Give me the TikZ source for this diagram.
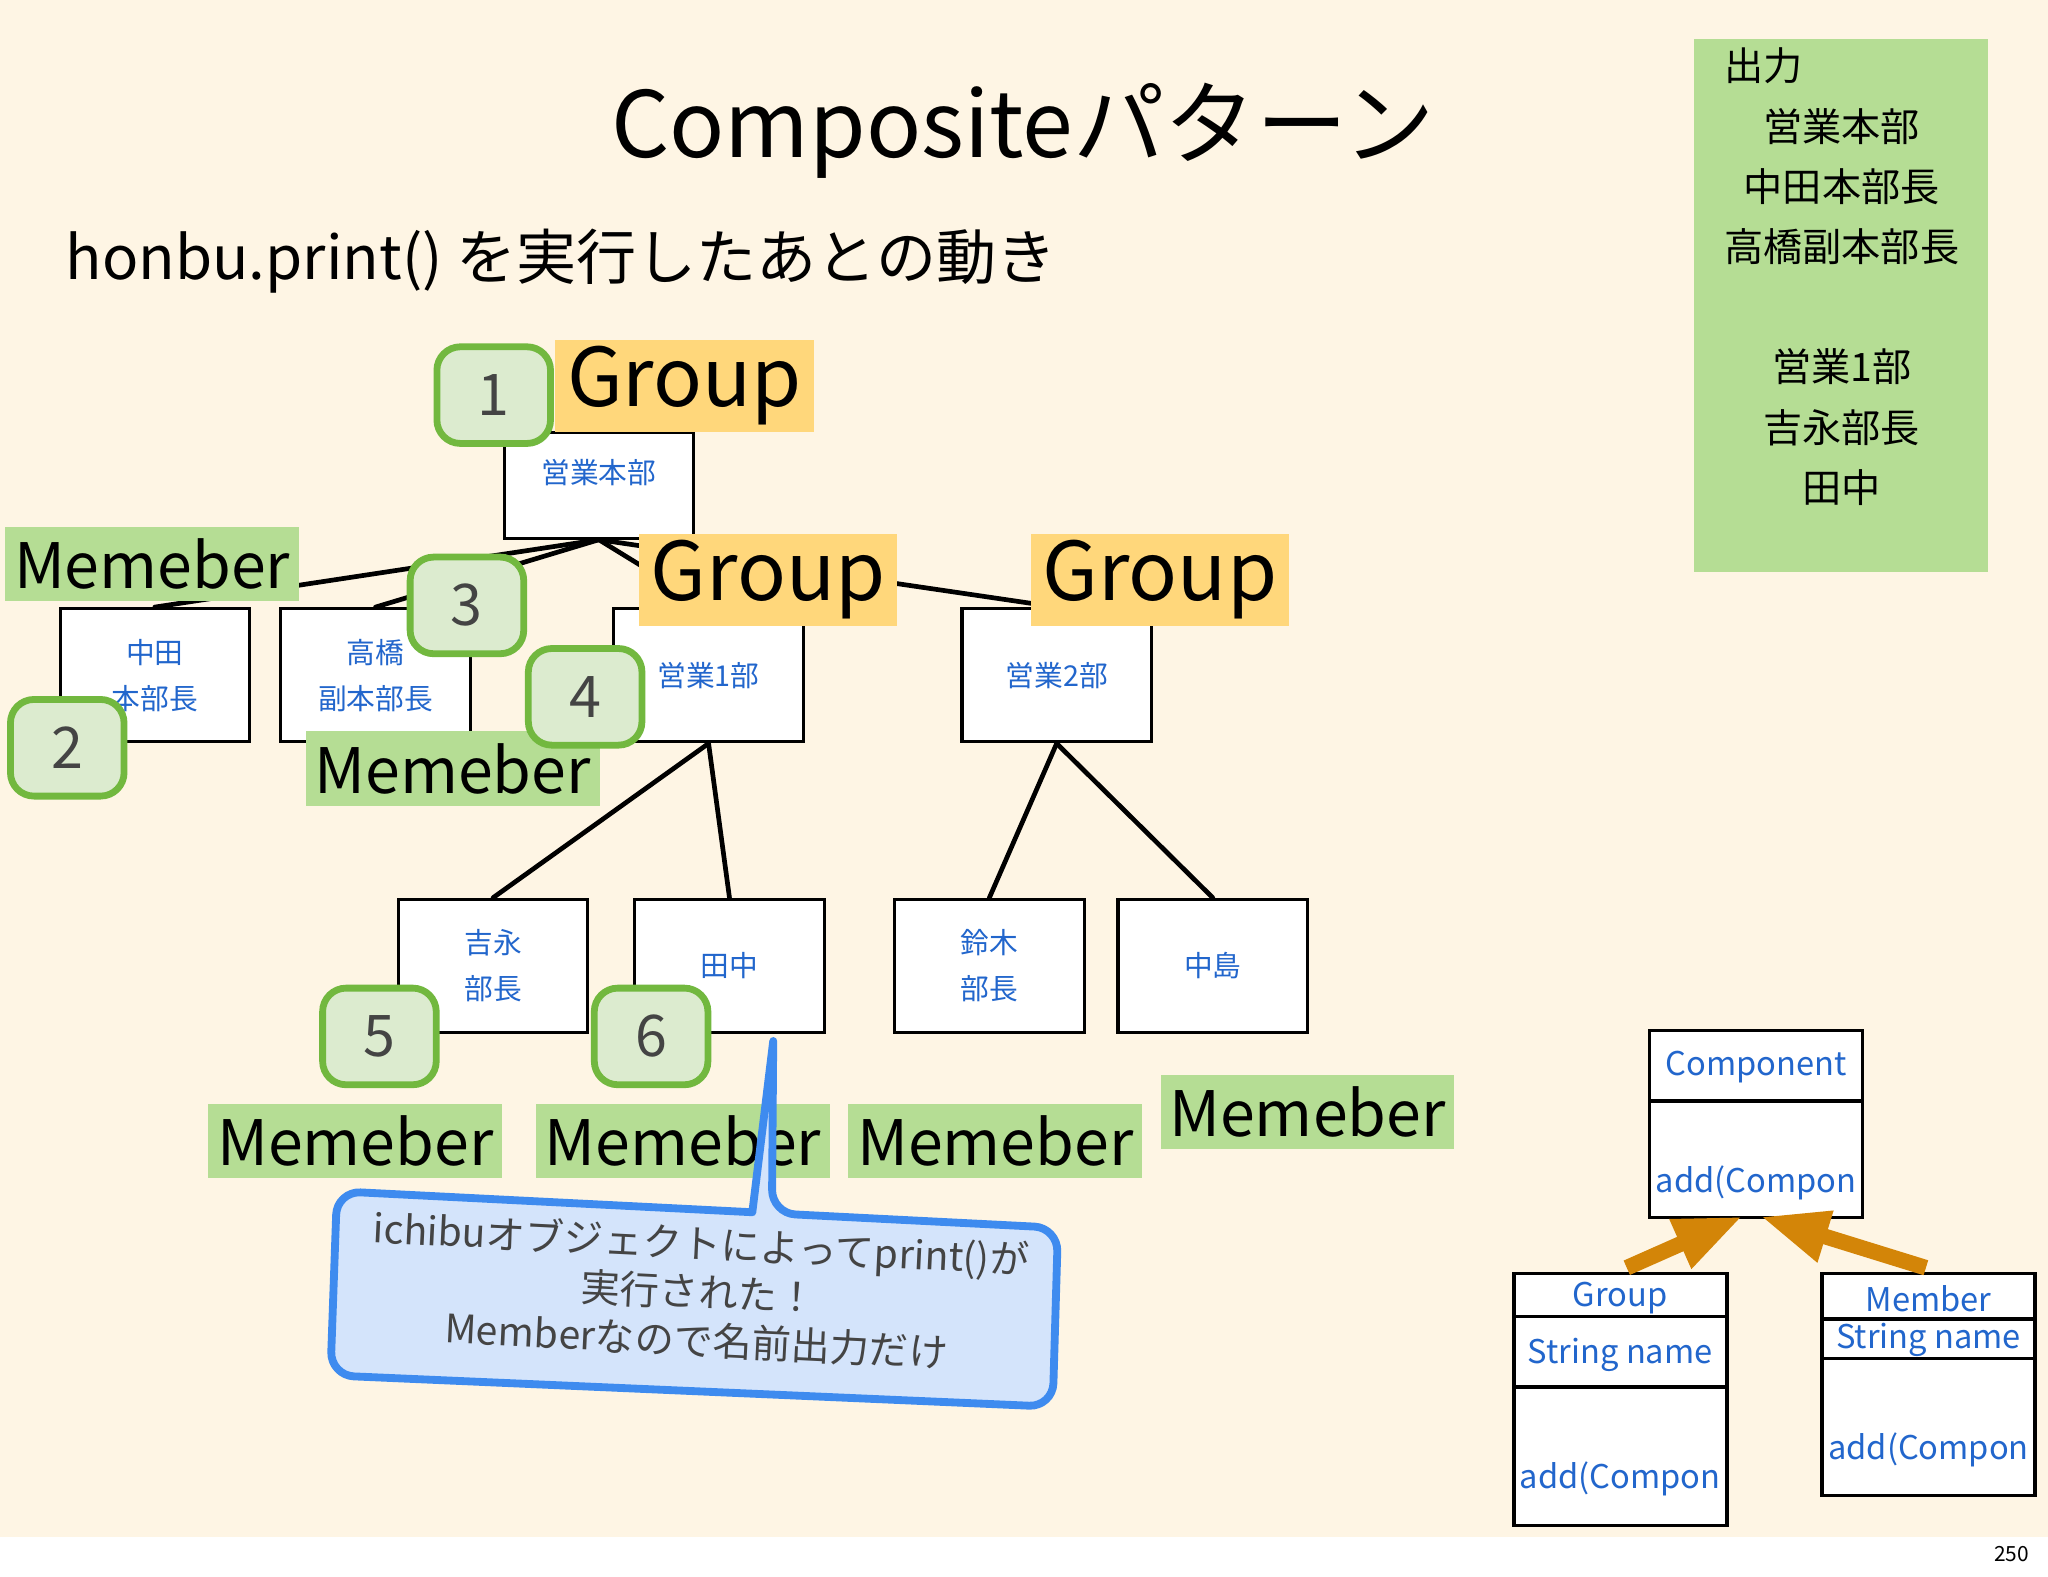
\documentclass[tikz,border=0pt]{standalone}
\usepackage{fontspec}
\setmainfont{Noto Sans CJK JP}
\usepackage{tikz}
\usetikzlibrary{arrows.meta}
\usetikzlibrary{backgrounds}

\definecolor{cream}{HTML}{FEF5E4}
\definecolor{memgreen}{HTML}{B5DD94}
\definecolor{grporange}{HTML}{FFD77B}
\definecolor{badgeline}{HTML}{72B83F}
\definecolor{badgefill}{HTML}{DCEBCF}
\definecolor{numgray}{HTML}{444444}
\definecolor{bluetxt}{HTML}{2266CC}
\definecolor{callfill}{HTML}{D4E4FB}
\definecolor{callline}{HTML}{3E8BEF}
\definecolor{inherit}{HTML}{D38508}

\begin{document}
\begin{tikzpicture}[x=0.5pt,y=-0.5pt,
	treebox/.style={draw, line width=1.2pt, fill=white, minimum width=72.5pt, minimum height=51pt, inner sep=0pt, text=bluetxt, font=\fontsize{11}{17.5}\selectfont, align=center},
	sketch/.style={line width=1.8pt, line cap=round},
	grptag/.style={fill=grporange, minimum width=99pt, minimum height=35.5pt, inner sep=0pt, font=\fontsize{31}{31}\selectfont},
	memtag/.style={fill=memgreen, minimum width=112.5pt, minimum height=28.5pt, inner sep=0pt, font=\fontsize{24}{24}\selectfont},
	numbadge/.style={draw=badgeline, line width=2.6pt, fill=badgefill, rounded corners=9pt, minimum width=43.5pt, minimum height=37pt, inner sep=0pt, text=numgray, font=\fontsize{22}{22}\selectfont},
	umlbox/.style={draw, line width=1.4pt, fill=white, minimum width=81.5pt, inner sep=0pt},
	umltext/.style={text=bluetxt, inner sep=0pt, font=\fontsize{12.5}{12.5}\selectfont},
	outtext/.style={inner sep=0pt, font=\fontsize{15}{23}\selectfont, align=center},
	inherit/.style={draw=inherit, line width=6pt, -{Triangle[length=26pt,width=19pt]}}]

	\useasboundingbox (0,0) rectangle (1568,1207);

	\node[font=\fontsize{35}{35}\selectfont] (title) at (783,100) {Compositeパターン};
	\node[anchor=west, inner sep=0pt, font=\fontsize{23}{23}\selectfont] (subtitle) at (50,200) {honbu.print() を実行したあとの動き};

	\fill[memgreen] (1297,30) rectangle (1522,438);
	\node[outtext, anchor=west] (outhead) at (1320,50) {出力};
	\node[outtext] (outlist) at (1410,235) {営業本部\\中田本部長\\高橋副本部長\\[23pt]営業1部\\吉永部長\\田中};

	\node[treebox, minimum height=40.5pt, label={[text=bluetxt, font=\fontsize{11}{11}\selectfont, yshift=4.75pt]center:営業本部}] (honbu) at (458.5,371.5) {};
	\node[treebox] (nakata) at (118.5,517) {中田\\本部長};
	\node[treebox] (takahashi) at (287.5,517) {高橋\\副本部長};
	\node[treebox] (ichibu) at (542.5,517) {営業1部};
	\node[treebox] (nibu) at (809,517) {営業2部};
	\node[treebox] (yoshinaga) at (377.5,739.5) {吉永\\部長};
	\node[treebox] (tanaka) at (558.5,739.5) {田中};
	\node[treebox] (suzuki) at (757.5,739.5) {鈴木\\部長};
	\node[treebox] (nakajima) at (928.5,739.5) {中島};

	\begin{scope}[on background layer]
		\fill[white] (0,0) rectangle (1568,1207);
		\fill[cream] (0,0) rectangle (1568,1177);
		\draw[sketch] (honbu.south) -- (nakata.north);
		\draw[sketch] (honbu.south) -- (takahashi.north);
		\draw[sketch] (honbu.south) -- (ichibu.north);
		\draw[sketch] (honbu.south) -- (nibu.north);
		\draw[sketch] (ichibu.south) -- (yoshinaga.north);
		\draw[sketch] (ichibu.south) -- (tanaka.north);
		\draw[sketch] (nibu.south) -- (suzuki.north);
		\draw[sketch] (nibu.south) -- (nakajima.north);
	\end{scope}

	\node[grptag] (grphonbu) at (524,295.5) {Group};
	\node[grptag] (grpichibu) at (588,444) {Group};
	\node[grptag] (grpnibu) at (888,444) {Group};
	\node[memtag] (memnakata) at (116.5,432) {Memeber};
	\node[memtag] (memtakahashi) at (346.5,588.5) {Memeber};
	\node[memtag] (memyoshinaga) at (272,873.5) {Memeber};
	\node[memtag] (memtanaka) at (523,873.5) {Memeber};
	\node[memtag] (memsuzuki) at (762,873.5) {Memeber};
	\node[memtag] (memnakajima) at (1001,851.5) {Memeber};

	\node[numbadge] (step1) at (378,302.5) {1};
	\node[numbadge] (step2) at (51.5,572.5) {2};
	\node[numbadge] (step3) at (357.5,463.5) {3};
	\node[numbadge] (step4) at (448,533.5) {4};
	\node[numbadge] (step5) at (290.5,793.5) {5};
	\node[numbadge] (step6) at (498.5,793.5) {6};

	\draw[draw=callline, fill=callfill, line width=3pt, line join=round] (400,919.2) [rounded corners=9pt] -- (258,912) -- (253,1053) -- (806,1077) -- (810,940) -- (591,928.9) [sharp corners] -- (592,797) -- (576,928.1) -- cycle;
	\node[text=numgray, align=center, rotate=-2.8, font=\fontsize{15}{18.5}\selectfont] (calltxt) at (535,989) {ichibuオブジェクトによってprint()が\\実行された！\\Memberなので名前出力だけ};

	\node[umlbox, minimum height=71.5pt] (comp) at (1344.5,860.5) {};
	\draw[line width=1.4pt] (1263,843) -- (1426,843);
	\node[umltext] (compname) at (1344.5,817) {Component};
	\node[umltext] (compop) at (1344.5,906) {add(Compon};

	\node[umlbox, minimum height=96.5pt] (grp) at (1240.5,1071.5) {};
	\draw[line width=1.4pt] (1159,1008) -- (1322,1008);
	\draw[line width=1.4pt] (1159,1062) -- (1322,1062);
	\node[umltext] (grpname) at (1240.5,994) {Group};
	\node[umltext] (grpattr) at (1240.5,1037) {String name};
	\node[umltext] (grpop) at (1240.5,1132) {add(Compon};

	\node[umlbox, minimum height=85pt] (mem) at (1476.5,1060) {};
	\draw[line width=1.4pt] (1395,1010) -- (1558,1010);
	\draw[line width=1.4pt] (1395,1040) -- (1558,1040);
	\node[umltext] (memname) at (1476.5,994) {Member};
	\node[umltext] (memattr) at (1476.5,1026) {String name};
	\node[umltext] (memop) at (1476.5,1110) {add(Compon};

	\draw[inherit] ([xshift=2.5pt,yshift=1.5pt]grp.north) -- ([xshift=-5.25pt,yshift=1pt]comp.south);
	\draw[inherit] ([xshift=-1pt,yshift=1.5pt]mem.north) -- ([xshift=1.75pt,yshift=1pt]comp.south);

	\node[font=\fontsize{8}{8}\selectfont] (pageno) at (1540,1190) {250};
\end{tikzpicture}
\end{document}
